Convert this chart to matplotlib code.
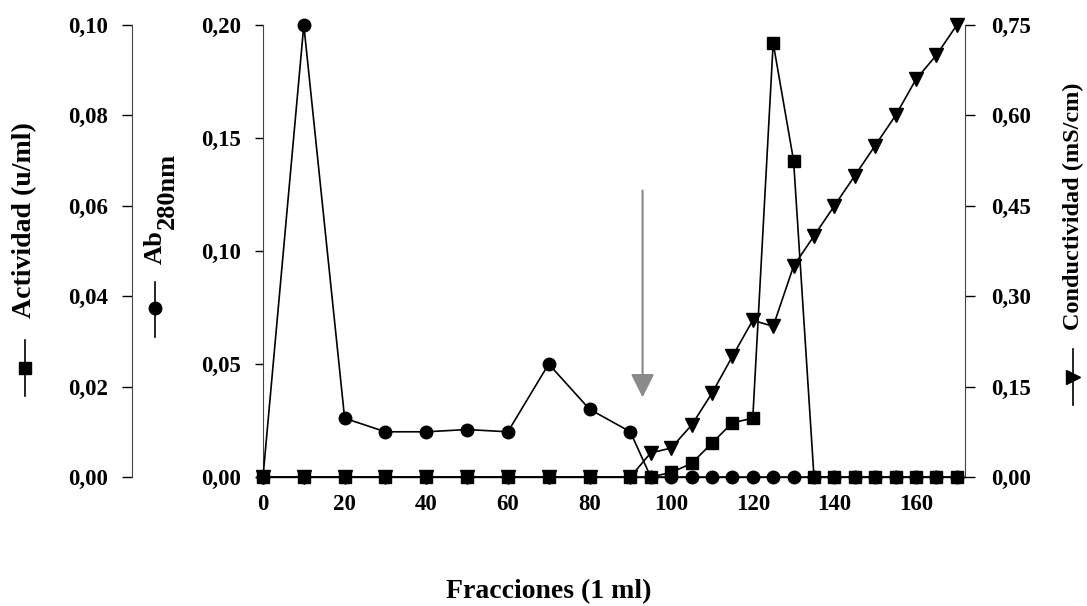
import matplotlib
matplotlib.use('Agg')
import matplotlib.pyplot as plt
from matplotlib.ticker import FuncFormatter
from matplotlib.lines import Line2D

# fractions (ml)
fracciones = [0, 10, 20, 30, 40, 50, 60, 70, 80, 90, 95, 100, 105, 110, 115, 120,
              125, 130, 135, 140, 145, 150, 155, 160, 165, 170]

# absorbance at 280 nm
ab280 = [0.0, 0.200, 0.026, 0.020, 0.020, 0.021, 0.020, 0.050, 0.030, 0.020, 0.0, 0.0, 0.0,
         0.0, 0.0, 0.0, 0.0, 0.0, 0.0, 0.0, 0.0, 0.0, 0.0, 0.0, 0.0, 0.0]

# enzyme activity (u/ml)
actividad = [0, 0, 0, 0, 0, 0, 0, 0, 0, 0, 0.0, 0.001, 0.003, 0.0075, 0.012, 0.013,
             0.096, 0.070, 0, 0, 0, 0, 0, 0, 0, 0]

# conductivity (mS/cm)
conductividad = [0, 0, 0, 0, 0, 0, 0, 0, 0, 0, 0.040, 0.048, 0.086, 0.139, 0.20, 0.26,
                 0.25, 0.35, 0.40, 0.45, 0.50, 0.55, 0.60, 0.66, 0.70, 0.75]

plt.rcParams['font.family'] = ['Liberation Serif', 'DejaVu Serif']
plt.rcParams['font.weight'] = 'bold'
fs = 16.5


def coma(v, pos):
    return f"{v:.2f}".replace('.', ',')


fig = plt.figure(figsize=(10.87, 6.06), dpi=100)
ax = fig.add_axes([263 / 1087, 1 - 477 / 606, 702 / 1087, 452 / 606])
ax_act = ax.twinx()
ax_cond = ax.twinx()

# main axis: absorbance
ax.plot(fracciones, ab280, color='black', lw=1.2, marker='o', ms=9, zorder=3, clip_on=False)
ax.set_xlim(0, 172)
ax.set_ylim(0, 0.20)
ax.set_yticks([0, 0.05, 0.10, 0.15, 0.20])
ax.set_xticks(range(0, 161, 20))
ax.yaxis.set_major_formatter(FuncFormatter(coma))
ax.tick_params(axis='x', length=0, pad=12, labelsize=fs)
ax.tick_params(axis='y', direction='out', length=6, width=1, pad=10, labelsize=fs)
ax.spines['top'].set_visible(False)
ax.spines['right'].set_visible(False)
ax.spines['bottom'].set_linewidth(1)
ax.spines['left'].set_color('#444444')

# activity axis (far left)
ax_act.plot(fracciones, actividad, color='black', lw=1.2, marker='s', ms=8, zorder=4, clip_on=False)
ax_act.set_ylim(0, 0.10)
ax_act.set_yticks([0, 0.02, 0.04, 0.06, 0.08, 0.10])
ax_act.yaxis.set_major_formatter(FuncFormatter(coma))
ax_act.yaxis.set_ticks_position('left')
ax_act.yaxis.set_label_position('left')
ax_act.spines['left'].set_position(('axes', -131 / 702))
ax_act.spines['left'].set_visible(True)
ax_act.spines['left'].set_color('#444444')
for s in ['top', 'right', 'bottom']:
    ax_act.spines[s].set_visible(False)
ax_act.tick_params(axis='y', direction='out', length=7, width=1, pad=10, labelsize=fs)

# conductivity axis (right)
ax_cond.plot(fracciones, conductividad, color='black', lw=1.2, marker='v', ms=10, zorder=2, clip_on=False)
ax_cond.set_ylim(0, 0.75)
ax_cond.set_yticks([0, 0.15, 0.30, 0.45, 0.60, 0.75])
ax_cond.yaxis.set_major_formatter(FuncFormatter(coma))
for s in ['top', 'left', 'bottom']:
    ax_cond.spines[s].set_visible(False)
ax_cond.spines['right'].set_color('#444444')
ax_cond.tick_params(axis='y', direction='out', length=7, width=1, pad=12, labelsize=fs)

ax.set_zorder(3)
ax.patch.set_visible(False)
ax_act.set_zorder(4)
ax_act.patch.set_visible(False)

# start of gradient arrow
ax.annotate('', xy=(93, 0.034), xytext=(93, 0.128),
            arrowprops=dict(arrowstyle='-|>,head_length=1.44,head_width=0.72',
                            mutation_scale=10, color='#8a8a8a', lw=1.5))

fig.text(549 / 1087, 1 - 592 / 606, 'Fracciones (1 ml)', ha='center', va='center', fontsize=20)


# axis titles with rotated legend samples
def etiqueta(x, y, texto, size, marker, ymk, mk_ms):
    fig.text(x / 1087, 1 - y / 606, texto, rotation=90, ha='center', va='center', fontsize=size)
    fig.add_artist(Line2D([x / 1087, x / 1087], [1 - (ymk - 28) / 606, 1 - (ymk + 28) / 606],
                          color='black', lw=1.2, transform=fig.transFigure))
    fig.add_artist(Line2D([x / 1087], [1 - ymk / 606], marker=marker, ms=mk_ms, color='black',
                          transform=fig.transFigure))


etiqueta(25, 220, 'Actividad (u/ml)', 20, 's', 368, 8)
etiqueta(1073, 206, 'Conductividad (mS/cm)', 17.5, '>', 377, 10)

fig.text(155 / 1087, 1 - 247 / 606, 'Ab', rotation=90, ha='center', va='center', fontsize=19)
fig.text(167 / 1087, 1 - 191 / 606, '280nm', rotation=90, ha='center', va='center', fontsize=19)
fig.add_artist(Line2D([155 / 1087, 155 / 1087], [1 - 282 / 606, 1 - 337 / 606],
                      color='black', lw=1.2, transform=fig.transFigure))
fig.add_artist(Line2D([155 / 1087], [1 - 308 / 606], marker='o', ms=9, color='black',
                      transform=fig.transFigure))

fig.savefig('out.png', dpi=100)
